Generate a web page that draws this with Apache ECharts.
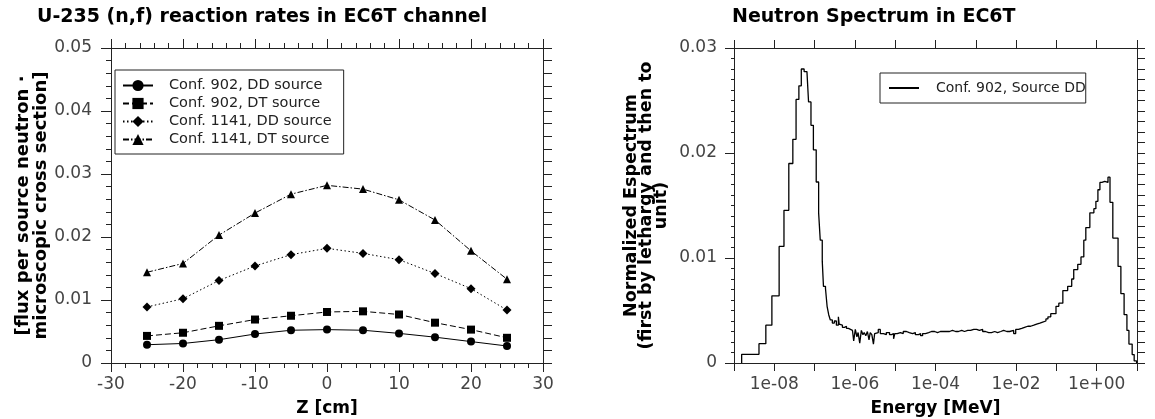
<!DOCTYPE html>
<html><head><meta charset="utf-8">
<script src="https://cdn.jsdelivr.net/npm/echarts@6/dist/echarts.min.js"></script>
<style>html,body{margin:0;padding:0;background:#fff}#c{width:1155px;height:419px}</style>
</head><body><div id="c"></div>
<script>
// ---- Left chart: U-235 (n,f) reaction rates ----
const zPositions = [-25, -20, -15, -10, -5, 0, 5, 10, 15, 20, 25];
const conf902DD  = [0.0029, 0.0031, 0.0037, 0.0046, 0.0052, 0.0053, 0.0052, 0.0047, 0.0041, 0.0034, 0.0027];
const conf902DT  = [0.0043, 0.0048, 0.0059, 0.0069, 0.0075, 0.0081, 0.0082, 0.0077, 0.0064, 0.0053, 0.0040];
const conf1141DD = [0.0089, 0.0102, 0.0131, 0.0154, 0.0172, 0.0182, 0.0174, 0.0164, 0.0142, 0.0118, 0.0084];
const conf1141DT = [0.0144, 0.0158, 0.0203, 0.0238, 0.0268, 0.0282, 0.0276, 0.0259, 0.0227, 0.0178, 0.0133];
const reactionNames = ['Conf. 902, DD source', 'Conf. 902, DT source', 'Conf. 1141, DD source', 'Conf. 1141, DT source'];

// ---- Right chart: neutron spectrum (energy given as log10 of E in MeV, step histogram) ----
const spectrumName = 'Conf. 902, Source DD';
const spectrumLog10E = [
 -8.81,-8.81,-8.38,-8.21,-8.06,-7.88,-7.76,-7.64,-7.54,-7.46,-7.39,-7.33,-7.26,-7.19,-7.15,-7.09,-7.03,-6.96,-6.90,-6.86,
 -6.81,-6.78,-6.73,-6.69,-6.65,-6.61,-6.56,-6.51,-6.46,-6.41,-6.39,-6.36,-6.31,-6.26,-6.21,-6.16,-6.11,-6.06,-6.03,-5.99,
 -5.95,-5.92,-5.88,-5.84,-5.80,-5.77,-5.73,-5.69,-5.65,-5.62,-5.58,-5.54,-5.51,-5.47,-5.42,-5.37,-5.29,-5.22,-5.14,-5.09,
 -5.04,-5.01,-4.95,-4.87,-4.80,-4.72,-4.65,-4.57,-4.50,-4.42,-4.37,-4.32,-4.25,-4.17,-4.10,-4.02,-3.95,-3.88,-3.80,-3.73,
 -3.65,-3.58,-3.50,-3.43,-3.35,-3.28,-3.20,-3.13,-3.05,-2.98,-2.91,-2.83,-2.76,-2.68,-2.61,-2.53,-2.46,-2.38,-2.31,-2.23,
 -2.16,-2.06,-2.01,-1.94,-1.86,-1.79,-1.71,-1.64,-1.56,-1.49,-1.41,-1.34,-1.26,-1.21,-1.14,-1.01,-0.94,-0.84,-0.72,-0.62,
 -0.57,-0.47,-0.39,-0.32,-0.27,-0.17,-0.07,-0.02,0.03,0.08,0.13,0.20,0.28,0.33,0.40,0.53,0.60,0.68,0.75,0.80,
 0.88,0.93,0.99
];
const spectrumValue = [
 0,0.00083,0.00184,0.0036,0.0064,0.0111,0.01454,0.0190,0.0213,0.0251,0.0264,0.0280,0.02775,0.0276,0.02486,0.02264,0.0203,0.01724,0.0143,0.0117,
 0.0097,0.0073,0.0071,0.0054,0.0046,0.0041,0.0038,0.0040,0.0036,0.0044,0.0037,0.0036,0.0034,0.0035,0.0033,0.0032,0.0031,0.0030,0.0021,0.0032,
 0.0025,0.0029,0.0019,0.0031,0.0027,0.0029,0.0026,0.0030,0.0022,0.0029,0.0027,0.0018,0.0028,0.0029,0.0032,0.0028,0.0027,0.0029,0.0027,0.0028,
 0.0023,0.0028,0.0029,0.0028,0.0030,0.0029,0.0028,0.0029,0.0027,0.0028,0.0026,0.0028,0.0029,0.0030,0.0030,0.0029,0.0030,0.0030,0.0030,0.0030,
 0.0031,0.0030,0.0030,0.0031,0.0030,0.0031,0.0031,0.0032,0.0032,0.0031,0.0032,0.0030,0.0029,0.0029,0.0030,0.0029,0.0030,0.0031,0.0030,0.0030,
 0.0031,0.0028,0.0032,0.0033,0.0034,0.0035,0.0035,0.0036,0.0037,0.0038,0.0039,0.0040,0.0042,0.0044,0.0047,0.0054,0.0057,0.0069,0.0073,0.0080,
 0.0089,0.0094,0.0101,0.0117,0.0129,0.0143,0.0147,0.0154,0.0165,0.0172,0.0173,0.0172,0.0177,0.0153,0.0119,0.0092,0.0066,0.0046,0.0031,0.0018,
 0.0008,0.0002,0
];

const FONT = 'DejaVu Sans';
const AX = '#222';
const LBL = '#444';
const LBL_SIZE = 17;

function energyLabel(v) {
  const e = Math.round(v);
  if (Math.abs(v - e) > 1e-6 || e % 2 !== 0) return '';
  return '1e' + (e < 0 ? '-' : '+') + String(Math.abs(e)).padStart(2, '0');
}

function baseAxis(extra) {
  return Object.assign({
    type: 'value',
    axisLine: { show: true, onZero: false, lineStyle: { color: AX, width: 1 } },
    axisTick: { show: true, inside: false, length: 8, lineStyle: { color: AX, width: 1 } },
    minorTick: { show: false },
    splitLine: { show: false },
    axisLabel: { show: true, color: LBL, fontFamily: FONT, fontSize: LBL_SIZE },
    nameTextStyle: { fontFamily: FONT, fontWeight: 'bold', fontSize: 17, color: '#000' }
  }, extra);
}

const chart = echarts.init(document.getElementById('c'), null, { renderer: 'canvas' });

const symbols = ['circle', 'rect', 'diamond', 'triangle'];
const lineTypes = ['solid', [6, 3], [1.5, 2.5], [6, 2, 1.5, 2]];
const reactionData = [conf902DD, conf902DT, conf1141DD, conf1141DT];

const series = reactionData.map((arr, k) => ({
  name: reactionNames[k],
  type: 'line',
  xAxisIndex: 0, yAxisIndex: 0,
  data: zPositions.map((z, i) => [z, arr[i]]),
  symbol: symbols[k],
  symbolSize: k === 2 ? 9 : 8,
  showSymbol: true,
  itemStyle: { color: '#000' },
  lineStyle: { color: '#000', width: 1, type: lineTypes[k] },
  animation: false
}));

series.push({
  name: spectrumName,
  type: 'line',
  xAxisIndex: 2, yAxisIndex: 2,
  step: 'end',
  showSymbol: false,
  symbol: 'none',
  data: spectrumLog10E.map((l, i) => [l, spectrumValue[i]]),
  itemStyle: { color: '#000' },
  lineStyle: { color: '#000', width: 1.3 },
  animation: false
});

const option = {
  animation: false,
  backgroundColor: '#fff',
  title: [
    { text: 'U-235 (n,f) reaction rates in EC6T channel', left: 32, top: 3,
      textStyle: { fontFamily: FONT, fontWeight: 'bold', fontSize: 19, color: '#000' } },
    { text: 'Neutron Spectrum in EC6T', left: 727, top: 3,
      textStyle: { fontFamily: FONT, fontWeight: 'bold', fontSize: 19, color: '#000' } }
  ],
  legend: [
    { data: reactionNames, orient: 'vertical', left: 115, top: 70,
      backgroundColor: '#fff', borderColor: AX, borderWidth: 1,
      padding: [8, 12, 7, 7], itemGap: 3, itemWidth: 30, itemHeight: 14,
      textStyle: { fontFamily: FONT, fontSize: 14.5, color: '#222', padding: [0, 0, 0, 11] },
      selectedMode: false },
    { data: [spectrumName], orient: 'vertical', left: 880, top: 73,
      backgroundColor: '#fff', borderColor: AX, borderWidth: 1,
      padding: [8, 0, 8, 8], itemWidth: 30, itemHeight: 14,
      itemStyle: { opacity: 0 },
      textStyle: { fontFamily: FONT, fontSize: 14, color: '#222', padding: [0, 0, 0, 12] },
      selectedMode: false }
  ],
  grid: [
    { left: 111, right: 612, top: 48, bottom: 56, containLabel: false, outerBoundsMode: 'none' },
    { left: 734, right: 18, top: 48, bottom: 56, containLabel: false, outerBoundsMode: 'none' }
  ],
  xAxis: [
    baseAxis({ gridIndex: 0, position: 'bottom', min: -30, max: 30, interval: 10,
      axisTick: { show: true, length: 9, lineStyle: { color: AX } },
      minorTick: { show: true, splitNumber: 5, length: 5, lineStyle: { color: AX } },
      axisLabel: { color: LBL, fontFamily: FONT, fontSize: LBL_SIZE, margin: 13 },
      name: 'Z [cm]', nameLocation: 'middle', nameGap: 37 }),
    baseAxis({ gridIndex: 0, position: 'top', min: -30, max: 30, interval: 10,
      axisTick: { show: true, length: 9, lineStyle: { color: AX } },
      minorTick: { show: true, splitNumber: 5, length: 5, lineStyle: { color: AX } },
      axisLabel: { show: false } }),
    baseAxis({ gridIndex: 1, position: 'bottom', min: -9, max: 1, interval: 1,
      axisTick: { show: true, length: 8, lineStyle: { color: AX } },
      axisLabel: { color: LBL, fontFamily: FONT, fontSize: LBL_SIZE, margin: 13, formatter: energyLabel, showMinLabel: true, showMaxLabel: true },
      name: 'Energy [MeV]', nameLocation: 'middle', nameGap: 37 }),
    baseAxis({ gridIndex: 1, position: 'top', min: -9, max: 1, interval: 1,
      axisTick: { show: true, length: 8, lineStyle: { color: AX } },
      axisLabel: { show: false } })
  ],
  yAxis: [
    baseAxis({ gridIndex: 0, position: 'left', min: 0, max: 0.05, interval: 0.01,
      axisTick: { show: true, length: 10, lineStyle: { color: AX } },
      minorTick: { show: true, splitNumber: 5, length: 5, lineStyle: { color: AX } },
      axisLabel: { color: LBL, fontFamily: FONT, fontSize: LBL_SIZE, margin: 19 },
      name: '[flux per source neutron ·\nmicroscopic cross section]', nameLocation: 'middle', nameGap: 61, nameRotate: 90,
      nameTextStyle: { fontFamily: FONT, fontWeight: 'bold', fontSize: 18, lineHeight: 18, color: '#000' } }),
    baseAxis({ gridIndex: 0, position: 'right', min: 0, max: 0.05, interval: 0.01,
      axisTick: { show: true, length: 9, lineStyle: { color: AX } },
      minorTick: { show: true, splitNumber: 5, length: 9, lineStyle: { color: AX } },
      axisLabel: { show: false } }),
    baseAxis({ gridIndex: 1, position: 'left', min: 0, max: 0.03, interval: 0.01,
      axisTick: { show: true, length: 9, lineStyle: { color: AX } },
      minorTick: { show: true, splitNumber: 10, length: 3, lineStyle: { color: AX } },
      axisLabel: { color: LBL, fontFamily: FONT, fontSize: LBL_SIZE, margin: 17 },
      name: 'Normalized Espectrum\n(first by lethargy and then to\nunit)', nameLocation: 'middle', nameGap: 65, nameRotate: 90,
      nameTextStyle: { fontFamily: FONT, fontWeight: 'bold', fontSize: 17.5, lineHeight: 15, color: '#000', align: 'center' } }),
    baseAxis({ gridIndex: 1, position: 'right', min: 0, max: 0.03, interval: 0.01,
      axisTick: { show: true, length: 8, lineStyle: { color: AX } },
      minorTick: { show: true, splitNumber: 10, length: 8, lineStyle: { color: AX } },
      axisLabel: { show: false } })
  ],
  series: series
};
chart.setOption(option);
</script>
</body></html>
